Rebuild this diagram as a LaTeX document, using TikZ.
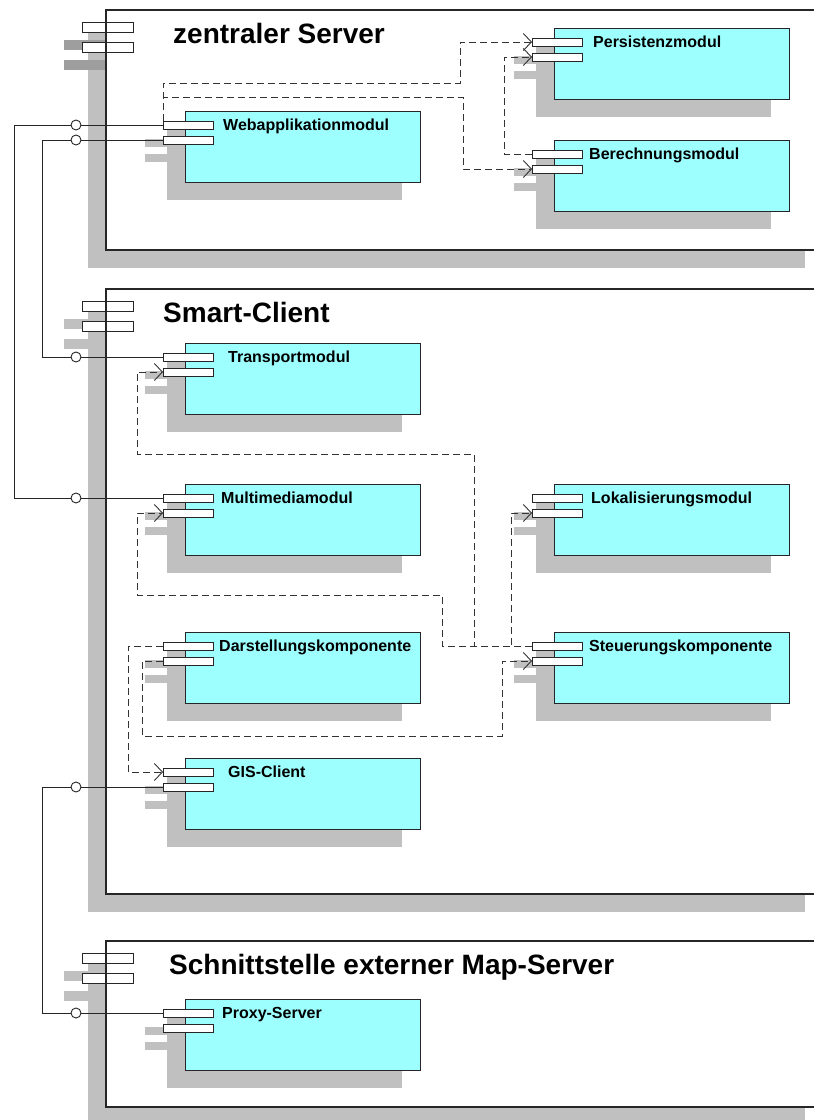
\documentclass[tikz,border=0pt]{standalone}
\usepackage{fontspec}
\setmainfont{Liberation Sans}
\usetikzlibrary{arrows.meta}
\definecolor{modulcyan}{RGB}{158,255,255}
\definecolor{schattengrau}{RGB}{192,192,192}
\definecolor{rastergrau}{RGB}{158,158,158}

\tikzset{
  modul/.style={draw=black!85, fill=modulcyan, line width=1pt, anchor=north west,
    minimum width=235pt, minimum height=71pt, inner sep=0pt, outer sep=0pt},
  anschluss/.style={draw=black!85, fill=white, line width=0.9pt, anchor=north west,
    minimum width=50pt, minimum height=8pt, inner sep=0pt, outer sep=0pt},
  paketanschluss/.style={anschluss, minimum width=51pt, minimum height=10pt},
  rahmen/.style={draw=black!85, line width=1.1pt},
  schatten/.style={fill=schattengrau},
  modultext/.style={anchor=base west, inner sep=0pt, font=\fontsize{16}{19}\selectfont\bfseries},
  pakettitel/.style={anchor=base west, inner sep=0pt, font=\fontsize{28}{32}\selectfont\bfseries},
  lolli/.style={circle, draw=black!85, fill=white, line width=0.9pt, minimum size=10pt, inner sep=0pt},
  verbindung/.style={draw=black!85, line width=0.9pt},
  abh/.style={draw=black!80, line width=0.9pt, dash pattern=on 7pt off 4pt,
    -{Straight Barb[length=8pt,width=17pt]}}
}

% Paket: Name, oben, Hoehe, Titel, Titel-x, Farbe der Anschluss-Schatten
\newcommand{\paket}[6]{%
  \begin{scope}[shift={(0,#2)}]
    \fill[schatten] (88,18) rectangle (805,#3+18);
    \fill[#6] (64,30) rectangle (115,40);
    \fill[#6] (64,50) rectangle (115,60);
    \fill[white] (106,0) rectangle (823,#3);
    \node[paketanschluss] (#1-a) at (82,12) {};
    \node[paketanschluss] (#1-b) at (82,32) {};
    \draw[rahmen] (106,0) rectangle (823,#3);
    \node[pakettitel] (#1-t) at (#5,33) {#4};
  \end{scope}}

% Komponente: Name, links, oben, Text, Text-x
\newcommand{\komponente}[5]{%
  \begin{scope}[shift={(#2,#3)}]
    \fill[schatten] (-18,18) rectangle (217,89);
    \fill[schatten] (-40,28) rectangle (10,36);
    \fill[schatten] (-40,43) rectangle (10,51);
    \node[modul] (#1) at (0,0) {};
    \node[anschluss] (#1-a) at (-22,10) {};
    \node[anschluss] (#1-b) at (-22,25) {};
    \node[modultext] (#1-t) at (#5,19) {#4};
  \end{scope}}

\begin{document}
\begin{tikzpicture}[x=1pt,y=-1pt]
\useasboundingbox (0,0) rectangle (814,1120);
\clip (0,0) rectangle (814,1120);

% Pakete
\paket{zs}{10}{240}{zentraler Server}{173}{rastergrau}
\paket{sc}{289}{605}{Smart-Client}{163}{schattengrau}
\paket{ms}{941}{166}{Schnittstelle externer Map-Server}{169}{schattengrau}

% zentraler Server
\komponente{web}{185}{111}{Webapplikationmodul}{38}
\komponente{pers}{554}{28}{Persistenzmodul}{39}
\komponente{ber}{554}{140}{Berechnungsmodul}{35}

% Smart-Client
\komponente{tr}{185}{343}{Transportmodul}{43}
\komponente{mm}{185}{484}{Multimediamodul}{36}
\komponente{lok}{554}{484}{Lokalisierungsmodul}{37}
\komponente{dar}{185}{632}{Darstellungskomponente}{34}
\komponente{steu}{554}{632}{Steuerungskomponente}{35}
\komponente{gis}{185}{758}{GIS-Client}{43}

% Map-Server
\komponente{proxy}{185}{999}{Proxy-Server}{37}

% Schnittstellen
\node[lolli] (o1) at (76,125) {};
\node[lolli] (o2) at (76,140) {};
\node[lolli] (o3) at (76,357) {};
\node[lolli] (o4) at (76,498) {};
\node[lolli] (o5) at (76,787) {};
\node[lolli] (o6) at (76,1013) {};

\draw[verbindung] (web-a) -- (o1);
\draw[verbindung] (o1) -- ++(-62,0) |- (o4);
\draw[verbindung] (o4) -- (mm-a);
\draw[verbindung] (web-b) -- (o2);
\draw[verbindung] (o2) -- ++(-34,0) |- (o3);
\draw[verbindung] (o3) -- (tr-a);
\draw[verbindung] (gis-b) -- (o5);
\draw[verbindung] (o5) -- ++(-34,0) |- (o6);
\draw[verbindung] (o6) -- (proxy-a);

% Abhaengigkeiten
\draw[abh] (web-a.north west) |- (460,83) |- (pers-a.west);
\draw[abh] (web-a.north west) |- (463,97) |- (ber-b.west);
\draw[abh] (ber-a.west) -- ++(-28,0) |- (pers-b.west);

\draw[abh] (steu-a.west) -| (474,454) -- (137,454) |- (tr-b.west);
\draw[abh] (steu-a.west) -| (442,595) -- (137,595) |- (mm-b.west);
\draw[abh] (steu-a.west) -- ++(-21,0) |- (lok-b.west);
\draw[abh] (dar-b.west) -- ++(-21,0) |- (502,736) |- (steu-b.west);
\draw[abh] (dar-a.west) -- ++(-35,0) |- (gis-a.west);
\end{tikzpicture}
\end{document}
